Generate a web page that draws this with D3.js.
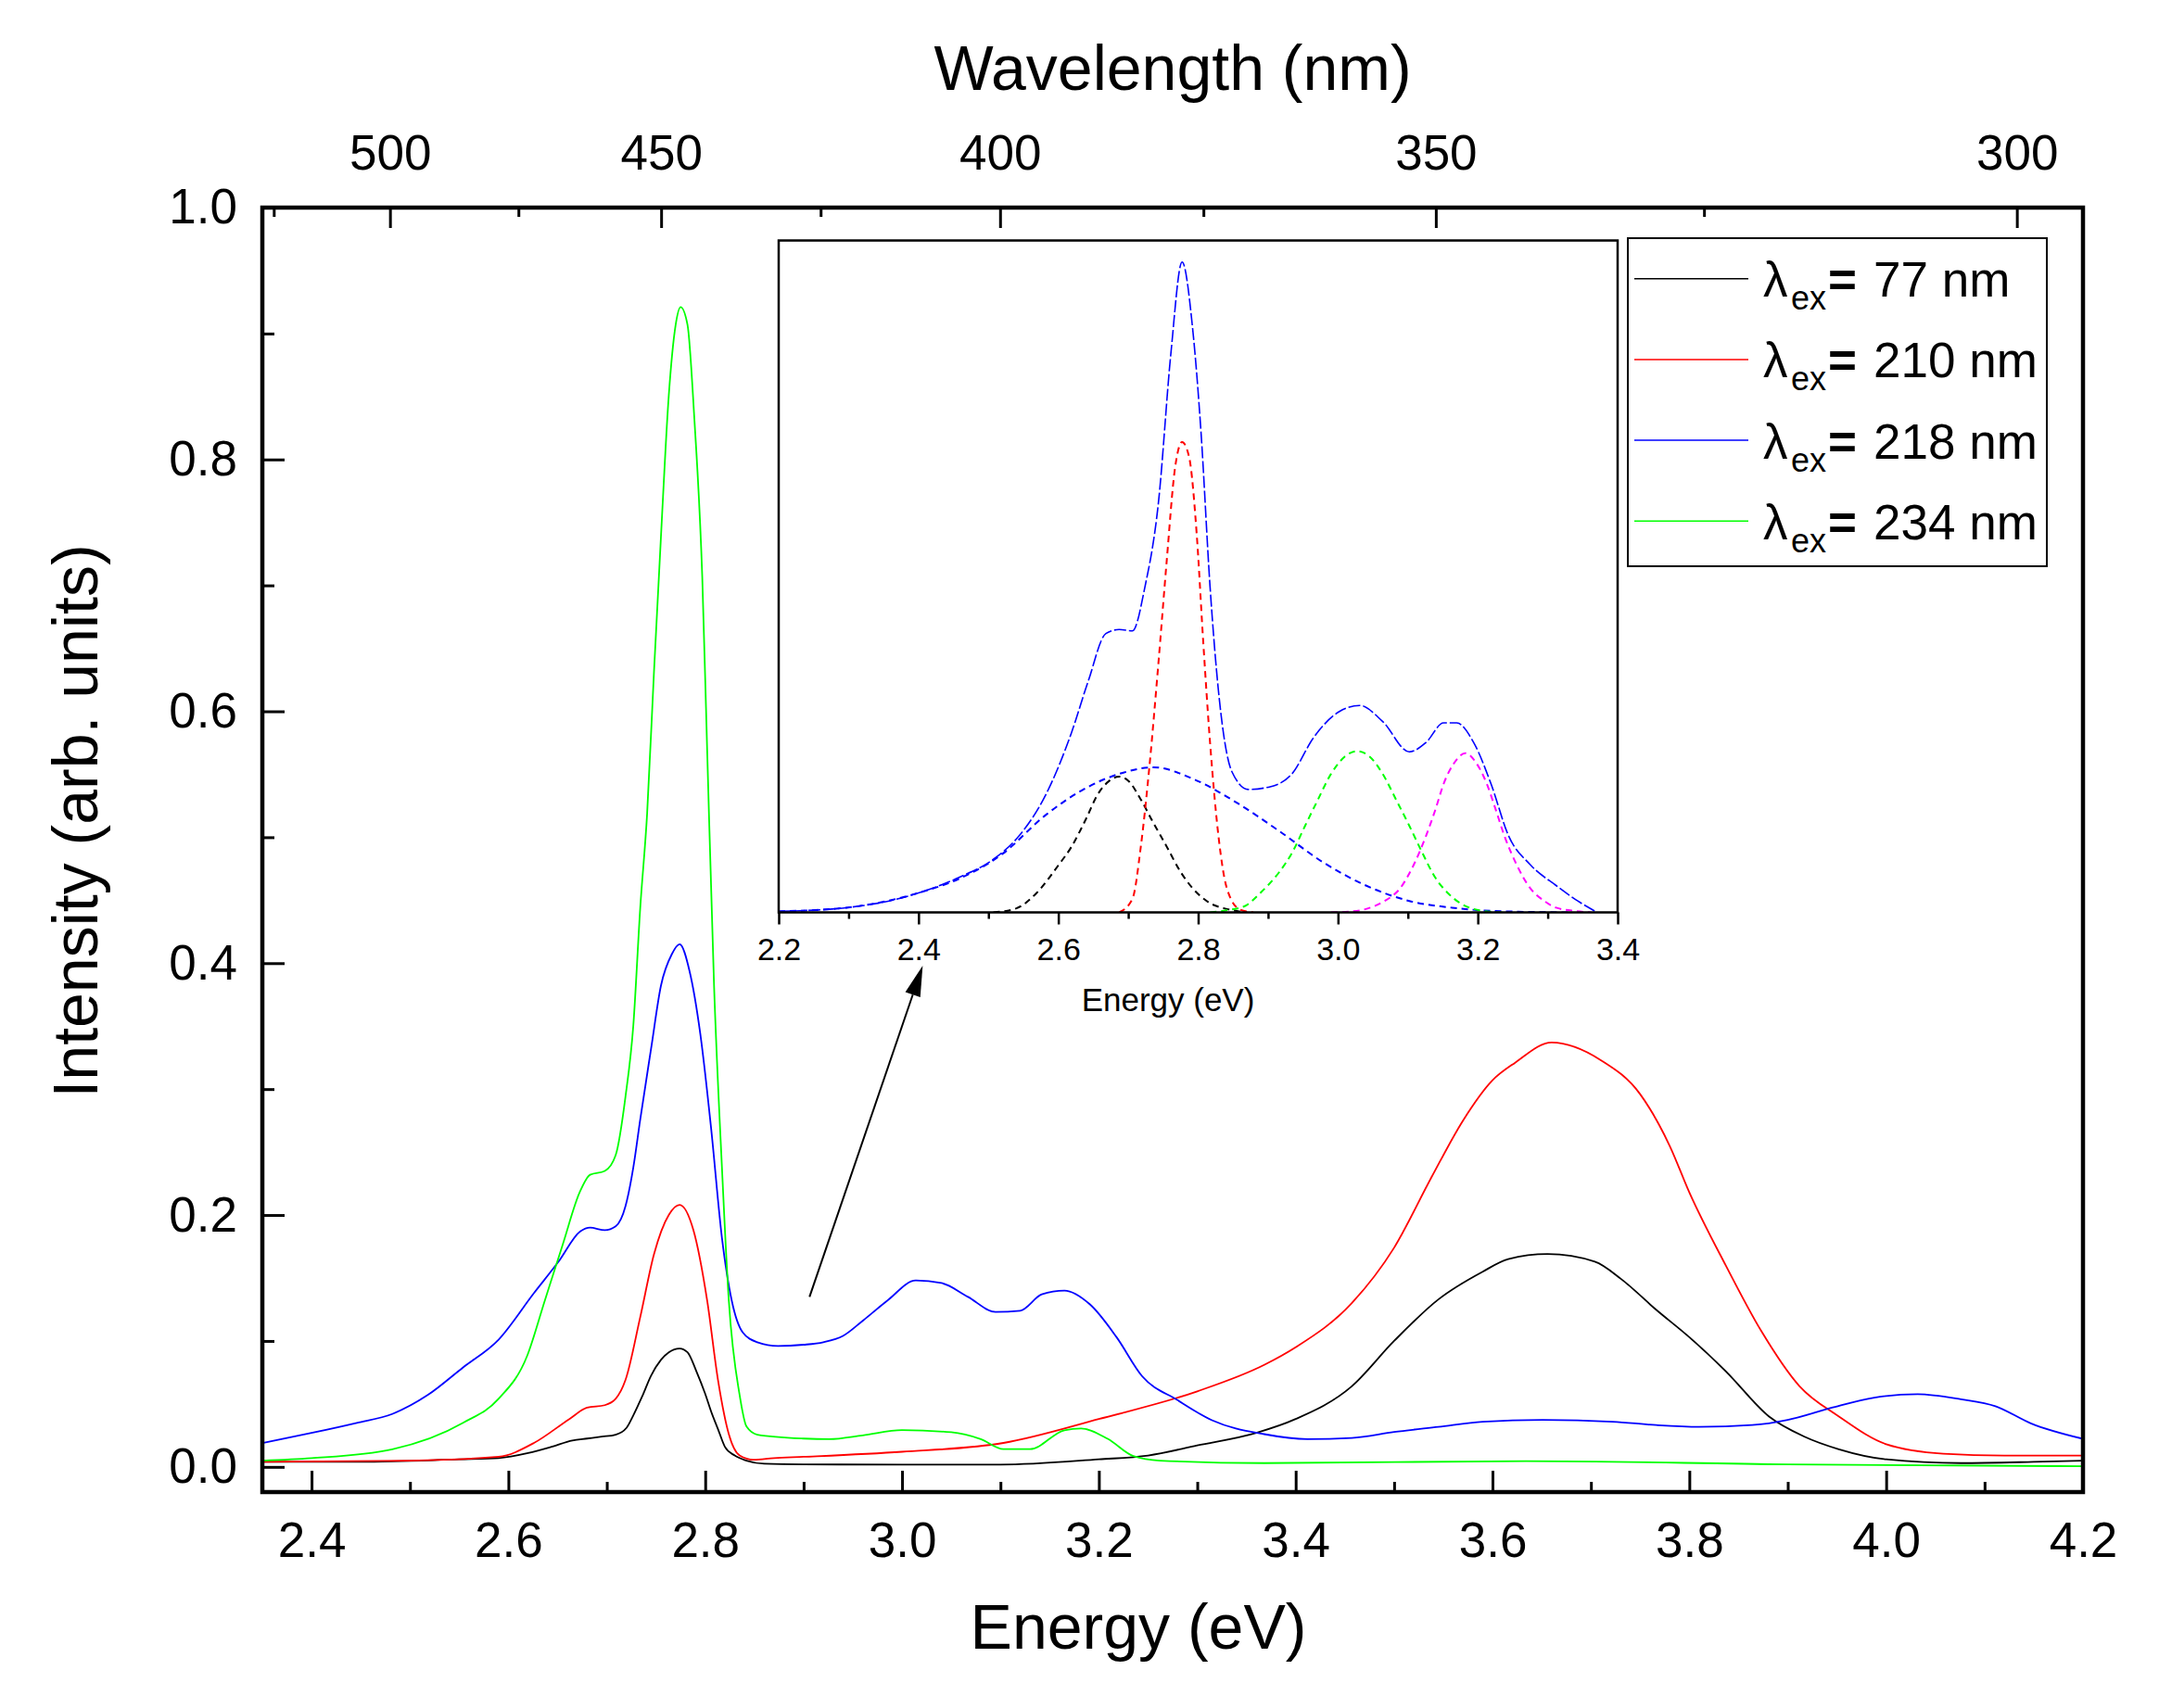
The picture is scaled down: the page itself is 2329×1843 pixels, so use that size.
<!DOCTYPE html>
<html><head><meta charset="utf-8">
<script src="https://cdn.jsdelivr.net/npm/d3@7/dist/d3.min.js"></script>
<style>html,body{margin:0;padding:0;background:#fff;}</style>
</head><body>
<svg id="chart" width="2329" height="1843"></svg>
<script>
// ---------------- DATA ----------------
// Main spectra: [energy (eV), intensity (arb. units)]
const ex77 = [[2.35,0.004],[2.45,0.004],[2.55,0.006],[2.59,0.007],[2.62,0.011],[2.644,0.016],[2.665,0.021],[2.68,0.0225],[2.695,0.024],[2.709,0.0256],[2.72,0.031],[2.727,0.041],[2.736,0.056],[2.745,0.0725],[2.755,0.085],[2.763,0.091],[2.774,0.094],[2.782,0.091],[2.791,0.076],[2.8,0.058],[2.806,0.044],[2.813,0.030],[2.82,0.016],[2.83,0.009],[2.842,0.005],[2.86,0.0025],[2.9,0.002],[3.0,0.0018],[3.1,0.0018],[3.2,0.006],[3.25,0.009],[3.3,0.017],[3.36,0.027],[3.4,0.038],[3.457,0.064],[3.5,0.1],[3.545,0.133],[3.59,0.155],[3.616,0.165],[3.656,0.169],[3.704,0.163],[3.731,0.149],[3.766,0.125],[3.8,0.103],[3.837,0.076],[3.881,0.04],[3.917,0.024],[3.952,0.014],[4.0,0.006],[4.076,0.003],[4.15,0.004],[4.2,0.005]];
const ex210 = [[2.35,0.004],[2.5,0.005],[2.59,0.008],[2.626,0.019],[2.662,0.038],[2.68,0.047],[2.698,0.049],[2.709,0.054],[2.719,0.069],[2.734,0.119],[2.748,0.169],[2.763,0.2],[2.774,0.208],[2.788,0.188],[2.802,0.132],[2.813,0.069],[2.824,0.026],[2.835,0.009],[2.849,0.0056],[2.87,0.007],[2.9,0.008],[3.0,0.012],[3.103,0.019],[3.2,0.038],[3.3,0.06],[3.368,0.081],[3.4,0.095],[3.457,0.13],[3.5,0.174],[3.538,0.23],[3.57,0.275],[3.6,0.307],[3.623,0.321],[3.66,0.337],[3.71,0.323],[3.75,0.296],[3.78,0.255],[3.8,0.218],[3.837,0.16],[3.873,0.108],[3.912,0.064],[3.952,0.04],[4.0,0.018],[4.058,0.0105],[4.12,0.009],[4.2,0.009]];
const ex218 = [[2.35,0.019],[2.4,0.027],[2.446,0.035],[2.482,0.042],[2.518,0.057],[2.554,0.079],[2.59,0.101],[2.626,0.138],[2.651,0.163],[2.673,0.187],[2.683,0.19],[2.698,0.188],[2.709,0.191],[2.719,0.207],[2.727,0.238],[2.734,0.276],[2.745,0.332],[2.755,0.382],[2.766,0.407],[2.774,0.415],[2.784,0.394],[2.795,0.344],[2.806,0.269],[2.817,0.182],[2.827,0.132],[2.838,0.107],[2.853,0.099],[2.874,0.096],[2.9,0.097],[2.92,0.099],[2.94,0.104],[2.96,0.116],[2.985,0.132],[3.014,0.148],[3.04,0.146],[3.067,0.135],[3.095,0.123],[3.12,0.124],[3.142,0.137],[3.165,0.14],[3.191,0.129],[3.218,0.103],[3.244,0.072],[3.28,0.053],[3.315,0.037],[3.368,0.026],[3.412,0.022],[3.457,0.023],[3.5,0.0277],[3.545,0.0318],[3.59,0.0359],[3.651,0.0373],[3.722,0.0359],[3.766,0.0332],[3.81,0.0318],[3.864,0.0332],[3.9,0.0373],[3.944,0.0468],[3.988,0.055],[4.032,0.0578],[4.076,0.0537],[4.111,0.0482],[4.147,0.0346],[4.2,0.0223]];
const ex234 = [[2.35,0.005],[2.4,0.007],[2.482,0.014],[2.554,0.035],[2.59,0.054],[2.619,0.088],[2.637,0.132],[2.655,0.176],[2.673,0.219],[2.683,0.232],[2.698,0.235],[2.709,0.2475],[2.719,0.294],[2.727,0.351],[2.734,0.444],[2.741,0.519],[2.748,0.632],[2.755,0.738],[2.763,0.851],[2.77,0.907],[2.775,0.921],[2.782,0.907],[2.789,0.832],[2.797,0.707],[2.802,0.569],[2.809,0.382],[2.817,0.238],[2.824,0.132],[2.835,0.057],[2.842,0.032],[2.853,0.0256],[2.9,0.0225],[2.926,0.022],[2.96,0.025],[3.0,0.0292],[3.05,0.0275],[3.08,0.022],[3.103,0.0141],[3.13,0.0141],[3.165,0.0291],[3.182,0.0305],[3.209,0.0223],[3.235,0.0086],[3.262,0.005],[3.368,0.003],[3.634,0.0046],[3.9,0.002],[4.2,0.0005]];

// Inset: measured spectrum and Gaussian components [energy, normalized intensity]
const insetSpectrum = [[2.2,0.0015],[2.297,0.007],[2.358,0.017],[2.4,0.029],[2.458,0.052],[2.507,0.079],[2.544,0.114],[2.582,0.175],[2.619,0.268],[2.643,0.345],[2.668,0.415],[2.687,0.421],[2.706,0.419],[2.724,0.485],[2.743,0.608],[2.761,0.832],[2.777,0.968],[2.792,0.870],[2.804,0.716],[2.817,0.485],[2.829,0.33],[2.848,0.21],[2.872,0.183],[2.903,0.187],[2.934,0.206],[2.965,0.26],[3.002,0.299],[3.031,0.308],[3.064,0.284],[3.102,0.239],[3.126,0.253],[3.151,0.282],[3.17,0.282],[3.194,0.253],[3.219,0.191],[3.244,0.114],[3.275,0.071],[3.312,0.04],[3.343,0.017],[3.368,0.0015]];
const fitBroad = [[2.2,0.0015],[2.297,0.007],[2.4,0.029],[2.458,0.05],[2.52,0.087],[2.582,0.145],[2.643,0.187],[2.693,0.208],[2.736,0.216],[2.792,0.199],[2.854,0.164],[2.916,0.121],[2.978,0.075],[3.04,0.04],[3.102,0.017],[3.163,0.007],[3.225,0.002],[3.33,0]];
const fit269 = [[2.507,0],[2.54,0.006],[2.569,0.029],[2.6,0.07],[2.619,0.098],[2.64,0.14],[2.656,0.175],[2.672,0.195],[2.687,0.202],[2.70,0.196],[2.718,0.168],[2.735,0.135],[2.755,0.098],[2.775,0.06],[2.792,0.036],[2.815,0.015],[2.841,0.005],[2.87,0]];
const fit278 = [[2.687,0],[2.706,0.02],[2.718,0.098],[2.73,0.214],[2.743,0.369],[2.755,0.523],[2.767,0.662],[2.777,0.70],[2.787,0.678],[2.798,0.562],[2.807,0.407],[2.817,0.253],[2.829,0.114],[2.841,0.036],[2.86,0.004],[2.879,0]];
const fit303 = [[2.817,0],[2.84,0.003],[2.866,0.009],[2.89,0.03],[2.916,0.06],[2.935,0.09],[2.953,0.129],[2.97,0.165],[2.99,0.206],[3.01,0.232],[3.027,0.24],[3.045,0.232],[3.064,0.206],[3.083,0.168],[3.102,0.129],[3.12,0.09],[3.139,0.052],[3.158,0.028],[3.176,0.013],[3.213,0.0015],[3.24,0]];
const fit318 = [[2.99,0],[3.015,0.001],[3.04,0.005],[3.065,0.016],[3.089,0.036],[3.108,0.07],[3.126,0.114],[3.14,0.155],[3.151,0.191],[3.166,0.222],[3.182,0.237],[3.198,0.222],[3.213,0.191],[3.225,0.155],[3.238,0.114],[3.256,0.07],[3.275,0.036],[3.295,0.017],[3.312,0.007],[3.34,0.002],[3.362,0]];

// Tick values / labels
const energyTicks = [2.4,2.6,2.8,3.0,3.2,3.4,3.6,3.8,4.0,4.2];
const energyMinor = [2.5,2.7,2.9,3.1,3.3,3.5,3.7,3.9,4.1];
const intensityTicks = [0,0.2,0.4,0.6,0.8,1.0];
const intensityMinor = [0.1,0.3,0.5,0.7,0.9];
const wavelengthTicks = [500,450,400,350,300];
const wavelengthMinor = [525,475,425,375,325];
const insetTicks = [2.2,2.4,2.6,2.8,3.0,3.2,3.4];
const insetMinor = [2.3,2.5,2.7,2.9,3.1,3.3];
const legendLabels = ["77","210","218","234"];
const seriesColors = ["#000000","#ff0000","#0000ff","#00ff00"];
const arrowFrom = [2.906,0.135], arrowTo = [3.021,0.398];
const HC = 1239.84;

// ---------------- DRAW ----------------
const FONT = '"Liberation Sans", Arial, Helvetica, sans-serif';
const svg = d3.select('#chart').style('font-family', FONT);
svg.append('rect').attr('width',2329).attr('height',1843).attr('fill','#fff');

const M = {l:283, r:2247, t:224, b:1610};
const x = d3.scaleLinear().domain([2.35,4.2]).range([M.l,M.r]);
const y = d3.scaleLinear().domain([-0.02,1.0]).range([M.b,M.t]);

svg.append('defs').append('clipPath').attr('id','mainClip')
  .append('rect').attr('x',M.l).attr('y',M.t).attr('width',M.r-M.l).attr('height',M.b-M.t);

const line = d3.line().x(d=>x(d[0])).y(d=>y(d[1])).curve(d3.curveMonotoneX);
const mainSeries = [ex77, ex210, ex218, ex234];
const gMain = svg.append('g').attr('clip-path','url(#mainClip)');
mainSeries.forEach((s,i)=>{
  gMain.append('path').attr('d',line(s)).attr('fill','none')
    .attr('stroke',seriesColors[i]).attr('stroke-width',1.8).attr('stroke-linejoin','round');
});

function styleAxis(g, fs){
  g.select('.domain').remove();
  g.selectAll('.tick line').attr('stroke','#000').attr('stroke-width',3);
  g.selectAll('.tick text').attr('fill','#000').style('font-size',fs+'px').style('font-family',FONT);
}
// bottom
const gB = svg.append('g').attr('transform',`translate(0,${M.b})`)
  .call(d3.axisBottom(x).tickValues(energyTicks).tickSize(-23).tickPadding(32).tickFormat(d3.format('.1f')));
styleAxis(gB,53);
const gBm = svg.append('g').attr('transform',`translate(0,${M.b})`)
  .call(d3.axisBottom(x).tickValues(energyMinor).tickSize(-11).tickFormat(''));
styleAxis(gBm,53);
// left
const gL = svg.append('g').attr('transform',`translate(${M.l},0)`)
  .call(d3.axisLeft(y).tickValues(intensityTicks).tickSize(-24).tickPadding(27).tickFormat(d3.format('.1f')));
styleAxis(gL,53);
const gLm = svg.append('g').attr('transform',`translate(${M.l},0)`)
  .call(d3.axisLeft(y).tickValues(intensityMinor).tickSize(-13).tickFormat(''));
styleAxis(gLm,53);
// top (wavelength, nonlinear: E = hc/lambda)
const gT = svg.append('g').attr('transform',`translate(0,${M.t})`)
  .call(d3.axisTop(x).tickValues(wavelengthTicks.map(w=>HC/w)).tickSize(-22).tickPadding(41)
    .tickFormat(e=>String(Math.round(HC/e))));
styleAxis(gT,53);
const gTm = svg.append('g').attr('transform',`translate(0,${M.t})`)
  .call(d3.axisTop(x).tickValues(wavelengthMinor.map(w=>HC/w)).tickSize(-10).tickFormat(''));
styleAxis(gTm,53);

// frame
svg.append('rect').attr('x',M.l).attr('y',M.t).attr('width',M.r-M.l).attr('height',M.b-M.t)
  .attr('fill','none').attr('stroke','#000').attr('stroke-width',4.5);

// titles
svg.append('text').attr('x',1228).attr('y',1779).attr('text-anchor','middle')
  .style('font-size','68px').text('Energy (eV)');
svg.append('text').attr('x',(M.l+M.r)/2).attr('y',97).attr('text-anchor','middle')
  .style('font-size','68px').text('Wavelength (nm)');
svg.append('text').attr('transform','translate(105,886) rotate(-90)').attr('text-anchor','middle')
  .style('font-size','68px').text('Intensity (arb. units)');

// arrow
(function(){
  const x0=x(arrowFrom[0]), y0=y(arrowFrom[1]), x1=x(arrowTo[0]), y1=y(arrowTo[1]);
  const dx=x1-x0, dy=y1-y0, L=Math.hypot(dx,dy), ux=dx/L, uy=dy/L;
  const hl=33, hw=8.5;
  const bx=x1-ux*hl, by=y1-uy*hl;
  svg.append('line').attr('x1',x0).attr('y1',y0).attr('x2',bx).attr('y2',by)
    .attr('stroke','#000').attr('stroke-width',2);
  svg.append('path').attr('d',`M${x1},${y1}L${bx-uy*hw},${by+ux*hw}L${bx+uy*hw},${by-ux*hw}Z`).attr('fill','#000');
})();

// ---------------- INSET ----------------
const I = {l:840, r:1745, t:259.5, b:984.5};
const xi = d3.scaleLinear().domain([2.2,3.4]).range([I.l,I.r]);
const yi = d3.scaleLinear().domain([0,1]).range([I.b,I.t]);
svg.append('rect').attr('x',I.l).attr('y',I.t).attr('width',I.r-I.l).attr('height',I.b-I.t).attr('fill','#fff');
svg.select('defs').append('clipPath').attr('id','insetClip')
  .append('rect').attr('x',I.l).attr('y',I.t).attr('width',I.r-I.l).attr('height',I.b-I.t);
const lineI = d3.line().x(d=>xi(d[0])).y(d=>yi(d[1])).curve(d3.curveMonotoneX);
const gI = svg.append('g').attr('clip-path','url(#insetClip)');
const fits = [[fitBroad,'#0000ff'],[fit269,'#000000'],[fit278,'#ff0000'],[fit303,'#00ff00'],[fit318,'#ff00ff']];
fits.forEach(([s,c])=>{
  gI.append('path').attr('d',lineI(s)).attr('fill','none').attr('stroke',c)
    .attr('stroke-width',2).attr('stroke-dasharray','7 5');
});
gI.append('path').attr('d',lineI(insetSpectrum)).attr('fill','none').attr('stroke','#0000ff')
  .attr('stroke-width',1.6).attr('stroke-dasharray','13 3');

svg.append('rect').attr('x',I.l).attr('y',I.t).attr('width',I.r-I.l).attr('height',I.b-I.t)
  .attr('fill','none').attr('stroke','#000').attr('stroke-width',2.5);
const gIB = svg.append('g').attr('transform',`translate(0,${I.b})`)
  .call(d3.axisBottom(xi).tickValues(insetTicks).tickSize(13).tickPadding(14).tickFormat(d3.format('.1f')));
styleAxis(gIB,34);
gIB.selectAll('.tick line').attr('stroke-width',2.5);
const gIBm = svg.append('g').attr('transform',`translate(0,${I.b})`)
  .call(d3.axisBottom(xi).tickValues(insetMinor).tickSize(7).tickFormat(''));
styleAxis(gIBm,34);
gIBm.selectAll('.tick line').attr('stroke-width',2.5);
svg.append('text').attr('x',1260).attr('y',1091).attr('text-anchor','middle')
  .style('font-size','35px').text('Energy (eV)');

// ---------------- LEGEND ----------------
const Lg = {l:1756, r:2208, t:257, b:611};
svg.append('rect').attr('x',Lg.l).attr('y',Lg.t).attr('width',Lg.r-Lg.l).attr('height',Lg.b-Lg.t)
  .attr('fill','#fff').attr('stroke','#000').attr('stroke-width',2);
legendLabels.forEach((lab,i)=>{
  const cy = 300.7 + i*87.2;
  svg.append('line').attr('x1',1763).attr('x2',1886).attr('y1',cy).attr('y2',cy)
    .attr('stroke',seriesColors[i]).attr('stroke-width',1.5);
  const base = cy + 19.5;
  svg.append('text').attr('x',1902).attr('y',base).style('font-size','53px').text('λ');
  svg.append('text').attr('x',1932).attr('y',base+14).style('font-size','36px').text('ex');
  svg.append('text').attr('x',1972).attr('y',base).style('font-size','53px').style('font-weight','bold').text('=');
  svg.append('text').attr('x',2021).attr('y',base).style('font-size','53px').text(lab + ' nm');
});
</script>
</body></html>
